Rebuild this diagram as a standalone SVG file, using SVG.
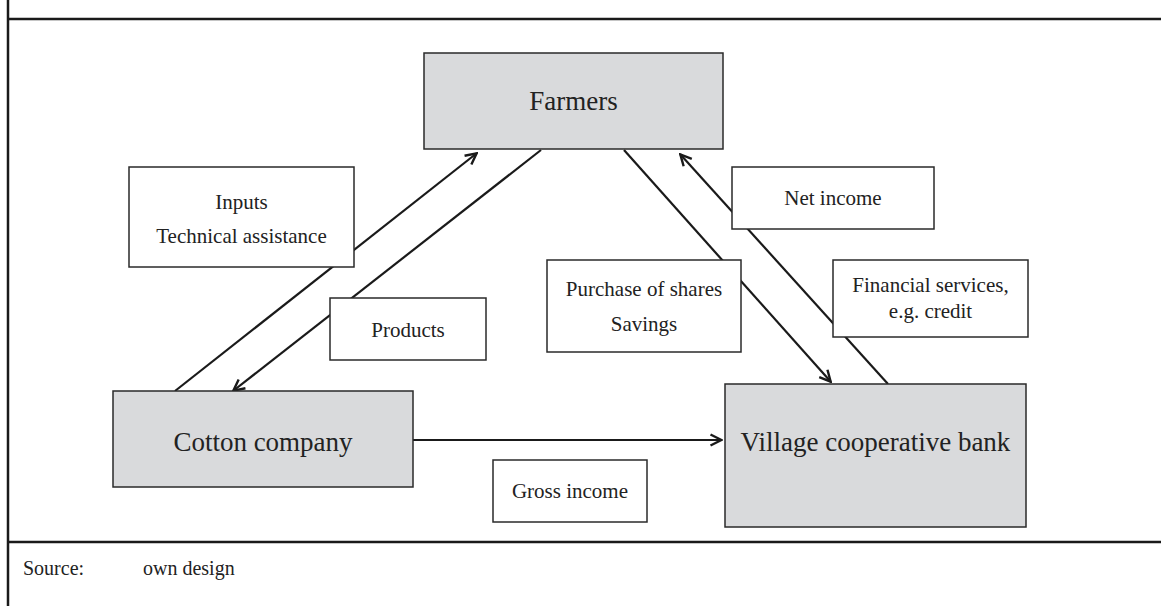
<svg xmlns="http://www.w3.org/2000/svg" width="1161" height="606" viewBox="0 0 1161 606">
<defs>
<marker id="arr" viewBox="0 0 14 14" refX="13" refY="7" markerWidth="14" markerHeight="14" markerUnits="userSpaceOnUse" orient="auto">
<path d="M1.5,1.5 L12.5,7 L1.5,12.5" fill="none" stroke="#1a1a1a" stroke-width="2.4"/>
</marker>
<style>
.frame{stroke:#1a1a1a;stroke-width:2.5;fill:none}
.actor{fill:#d9dadc;stroke:#2a2a2a;stroke-width:1.5}
.lbl{fill:#ffffff;stroke:#2a2a2a;stroke-width:1.5}
.conn{stroke:#1a1a1a;stroke-width:2.2;fill:none;marker-end:url(#arr)}
text{font-family:"Liberation Serif","Times New Roman",serif;fill:#222;text-anchor:middle}
.big{font-size:27px}
.sm{font-size:21px}
.src{font-size:20px;text-anchor:start}
</style>
</defs>
<rect width="1161" height="606" fill="#ffffff"/>
<g id="frame">
<line class="frame" x1="8" y1="0" x2="8" y2="606"/>
<line class="frame" x1="8" y1="19" x2="1161" y2="19"/>
<line class="frame" x1="8" y1="542" x2="1161" y2="542"/>
</g>
<g id="connectors">
<line class="conn" x1="175" y1="391" x2="477" y2="153"/>
<line class="conn" x1="541" y1="150" x2="233" y2="391"/>
<line class="conn" x1="624" y1="150" x2="831" y2="382"/>
<line class="conn" x1="888" y1="384" x2="680" y2="154"/>
<line class="conn" x1="413" y1="440" x2="722" y2="440"/>
</g>
<g id="farmers">
<rect class="actor" x="424" y="53" width="299" height="96"/>
<text class="big" x="573.5" y="110">Farmers</text>
</g>
<g id="cotton-company">
<rect class="actor" x="113" y="391" width="300" height="96"/>
<text class="big" x="263" y="451">Cotton company</text>
</g>
<g id="village-bank">
<rect class="actor" x="725" y="384" width="301" height="143"/>
<text class="big" x="875.5" y="451">Village cooperative bank</text>
</g>
<g id="label-inputs">
<rect class="lbl" x="129" y="167" width="225" height="100"/>
<text class="sm" x="241.5" y="209">Inputs</text>
<text class="sm" x="241.5" y="243">Technical assistance</text>
</g>
<g id="label-products">
<rect class="lbl" x="330" y="298" width="156" height="62"/>
<text class="sm" x="408" y="337">Products</text>
</g>
<g id="label-purchase">
<rect class="lbl" x="547" y="260" width="194" height="92"/>
<text class="sm" x="644" y="296">Purchase of shares</text>
<text class="sm" x="644" y="331">Savings</text>
</g>
<g id="label-net-income">
<rect class="lbl" x="732" y="167" width="202" height="62"/>
<text class="sm" x="833" y="205">Net income</text>
</g>
<g id="label-financial">
<rect class="lbl" x="833" y="260" width="195" height="77"/>
<text class="sm" x="930.5" y="292">Financial services,</text>
<text class="sm" x="930.5" y="318">e.g. credit</text>
</g>
<g id="label-gross-income">
<rect class="lbl" x="493" y="460" width="154" height="62"/>
<text class="sm" x="570" y="498">Gross income</text>
</g>
<g id="source">
<text class="src" x="23" y="575">Source:</text>
<text class="src" x="143" y="575">own design</text>
</g>
</svg>
